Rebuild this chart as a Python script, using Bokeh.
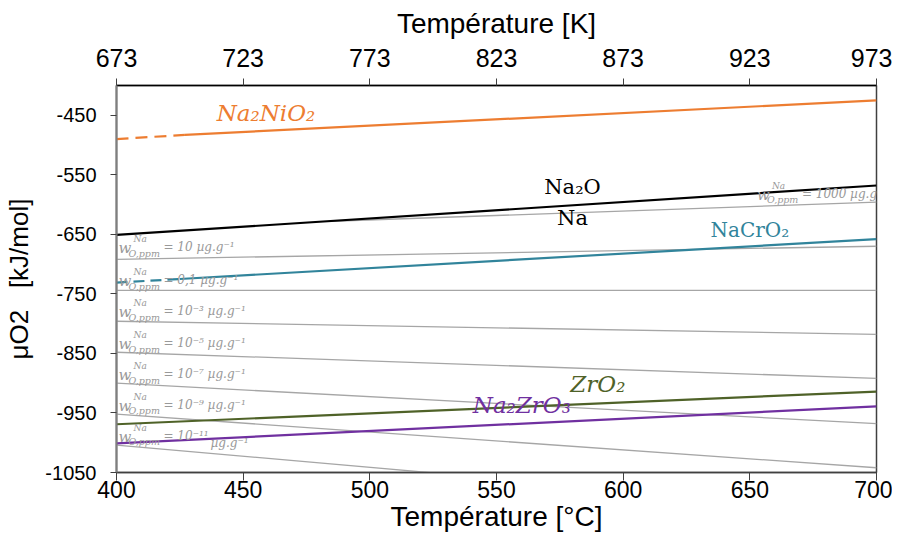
from bokeh.plotting import figure
from bokeh.models import Range1d, LinearAxis, FixedTicker, Label
from bokeh.embed import file_html
from bokeh.resources import INLINE
from bokeh.core.properties import value

# ---------------- data ----------------
T_ends = [400, 700]                       # °C
C_ticks = [400, 450, 500, 550, 600, 650, 700]
K_ticks = [673, 723, 773, 823, 873, 923, 973]
mu_ticks = [-1050, -950, -850, -750, -650, -550, -450]

na2nio2_T = [400, 427, 700]
na2nio2_mu = [-490, -483, -425]
na2o_mu = [-651, -568]
nacro2_T = [400, 425, 700]
nacro2_mu = [-731, -725, -658]
zro2_mu = [-969, -914]
na2zro3_mu = [-1001, -939]

# iso-oxygen-content lines (w_O,ppm^Na)
w_values = ["1000", "10", "0,1", "10⁻³", "10⁻⁵", "10⁻⁷", "10⁻⁹", "10⁻¹¹"]
w_T_start = [485, 400, 400, 400, 400, 400, 400, 400]
w_mu_start = [-628, -692, -744, -796, -848, -900, -952, -1004]
w_mu_end = [-596, -670, -744, -818, -892, -968, -1042, -1116]

# label anchors for the iso lines
w_lab_T = [652, 400, 400, 400, 400, 400, 400, 400]
w_lab_mu = [-582, -672, -727, -779, -833, -885, -936, -988]

# ---------------- styling ----------------
ORANGE = "#ED7D31"
TEAL = "#31849B"
GREEN = "#4F6228"
PURPLE = "#7030A0"
GRAY = "#A6A6A6"
LABGRAY = "#999999"
SANS = "Liberation Sans"
SERIF = "DejaVu Serif"

p = figure(width=892, height=540,
           x_range=Range1d(400, 700), y_range=Range1d(-1050, -400),
           output_backend="svg", toolbar_location=None,
           min_border_left=116, min_border_right=16,
           min_border_top=85, min_border_bottom=68)
p.xgrid.visible = False
p.ygrid.visible = False
p.outline_line_color = "#404040"
p.outline_line_width = 1.5
p.background_fill_color = "white"
p.border_fill_color = "white"

# bottom axis (°C)
xa = p.xaxis[0]
xa.ticker = FixedTicker(ticks=C_ticks)
xa.axis_label = "Température [°C]"
xa.axis_label_text_font = SANS
xa.axis_label_text_font_style = "normal"
xa.axis_label_text_font_size = "28px"
xa.axis_label_text_color = "black"
xa.axis_label_standoff = 0
xa.major_label_text_font = SANS
xa.major_label_text_font_size = "23px"
xa.major_label_text_color = "black"
xa.major_label_standoff = 0
xa.major_tick_in = 0
xa.major_tick_out = 8
xa.minor_tick_in = 0
xa.minor_tick_out = 0
xa.axis_line_color = "#404040"
xa.axis_line_width = 1.5
xa.major_tick_line_color = "#404040"

# left axis
ya = p.yaxis[0]
ya.ticker = FixedTicker(ticks=mu_ticks)
ya.major_label_overrides = {t: str(t) for t in mu_ticks}
ya.axis_label = "μO2 \u00a0 [kJ/mol]"
ya.axis_label_text_font = SANS
ya.axis_label_text_font_style = "normal"
ya.axis_label_text_font_size = "26px"
ya.axis_label_text_color = "black"
ya.axis_label_standoff = 8
ya.major_label_text_font = SANS
ya.major_label_text_font_size = "20px"
ya.major_label_text_color = "black"
ya.major_label_standoff = 14
ya.major_tick_in = 0
ya.major_tick_out = 6
ya.minor_tick_in = 0
ya.minor_tick_out = 0
ya.axis_line_color = "#7f7f7f"
ya.axis_line_width = 2
ya.major_tick_line_color = "#404040"

# top axis (K)
p.extra_x_ranges = {"K": Range1d(673, 973)}
ka = LinearAxis(x_range_name="K", ticker=FixedTicker(ticks=K_ticks))
ka.axis_label = "Température [K]"
ka.axis_label_text_font = SANS
ka.axis_label_text_font_style = "normal"
ka.axis_label_text_font_size = "28px"
ka.axis_label_text_color = "black"
ka.axis_label_standoff = 7
ka.major_label_text_font = SANS
ka.major_label_text_font_size = "25px"
ka.major_label_text_color = "black"
ka.major_label_standoff = 12
ka.major_tick_in = 0
ka.major_tick_out = 7
ka.minor_tick_in = 0
ka.minor_tick_out = 0
ka.axis_line_color = "black"
ka.axis_line_width = 1.5
ka.major_tick_line_color = "#404040"
p.add_layout(ka, "above")

# ---------------- gray iso lines ----------------
for ts, ms, me in zip(w_T_start, w_mu_start, w_mu_end):
    p.line([ts, T_ends[1]], [ms, me], line_color=GRAY, line_width=1.3)

# ---------------- phase lines ----------------
p.line(na2nio2_T[:2], na2nio2_mu[:2], line_color=ORANGE, line_width=2.2, line_dash="12 7")
p.line(na2nio2_T[1:], na2nio2_mu[1:], line_color=ORANGE, line_width=2.2)
p.line(T_ends, na2o_mu, line_color="black", line_width=2.2)
p.line(nacro2_T[:2], nacro2_mu[:2], line_color=TEAL, line_width=2.2, line_dash="11 6")
p.line(nacro2_T[1:], nacro2_mu[1:], line_color=TEAL, line_width=2.2)
p.line(T_ends, zro2_mu, line_color=GREEN, line_width=2.2)
p.line(T_ends, na2zro3_mu, line_color=PURPLE, line_width=2.2)

# ---------------- iso-line labels ----------------
rest = ["= " + v + " µg.g⁻¹" for v in w_values]
rest[-1] = "= " + w_values[-1]
common = dict(text_font=value(SERIF), text_font_style="italic",
              text_color=LABGRAY, text_baseline="middle", text_align="left")
p.text(w_lab_T, w_lab_mu, text=["w"] * len(w_lab_T), x_offset=2, y_offset=1,
       text_font_size="15px", **common)
p.text(w_lab_T, w_lab_mu, text=["Na"] * len(w_lab_T), x_offset=17, y_offset=-8,
       text_font_size="9px", **common)
p.text(w_lab_T, w_lab_mu, text=["O,ppm"] * len(w_lab_T), x_offset=12, y_offset=6,
       text_font_size="9.5px", **common)
p.text(w_lab_T, w_lab_mu, text=rest, x_offset=47, y_offset=0,
       text_font_size="12px", **common)
p.text(w_lab_T[-1:], w_lab_mu[-1:], text=["µg.g⁻¹"], x_offset=94, y_offset=7,
       text_font_size="12px", **common)

# ---------------- species labels ----------------
def lab(x, y, t, color, italic=False, size="20px"):
    p.add_layout(Label(x=x, y=y, text=t, text_color=color, text_font=SERIF,
                       text_font_style="italic" if italic else "normal",
                       text_font_size=size, text_align="center",
                       text_baseline="middle"))

lab(459, -446, "Na₂NiO₂", ORANGE, italic=True, size="23px")
lab(580, -571, "Na₂O", "black", size="21px")
lab(580, -622, "Na", "black", size="21px")
lab(650, -642, "NaCrO₂", TEAL, size="20px")
lab(590, -901, "ZrO₂", GREEN, italic=True, size="23px")
lab(560, -937, "Na₂ZrO₃", PURPLE, italic=True, size="23px")

open("out.html", "w").write(file_html(p, INLINE))
